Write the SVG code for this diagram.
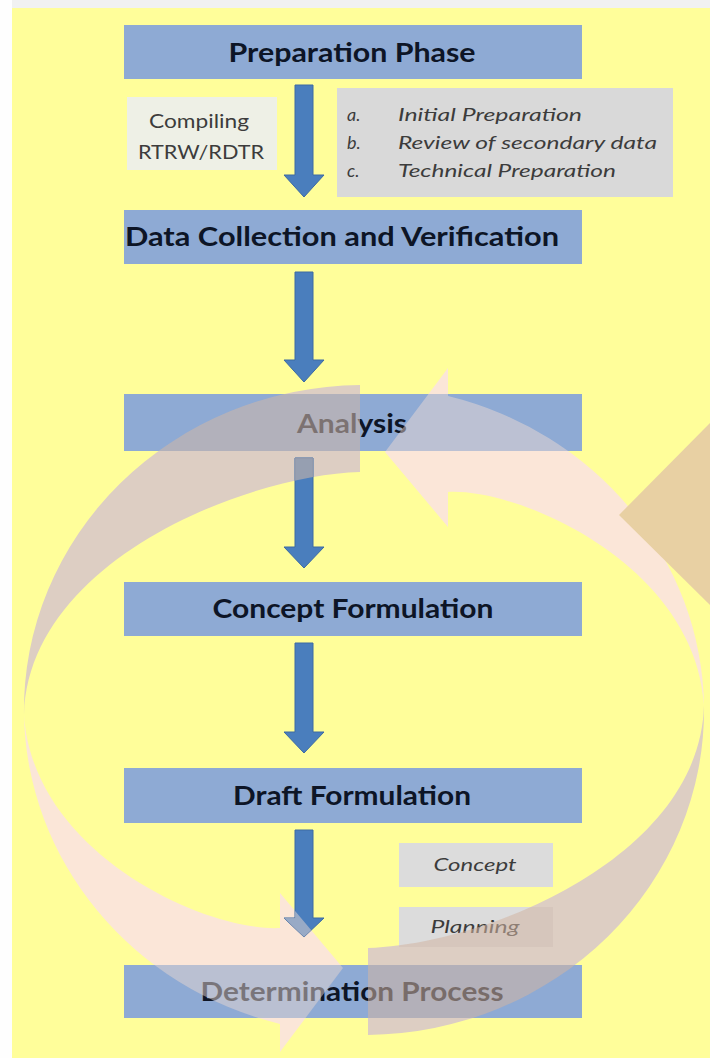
<svg xmlns="http://www.w3.org/2000/svg" xmlns:xlink="http://www.w3.org/1999/xlink" width="710" height="1058" viewBox="0 0 710 1058">
<style>
.box{fill:#8EAAD4}
.title{font-family:Lato,"Liberation Sans",sans-serif;font-weight:700;font-size:27px;fill:#0d1526;text-anchor:middle}
.small{font-family:Lato,"Liberation Sans",sans-serif;font-size:19px;fill:#3c3c3c;text-anchor:middle}
.ital{font-family:Lato,"Liberation Sans",sans-serif;font-style:italic;font-size:18px;fill:#3c3c3c}
.barrow{fill:#4A7EBD;stroke:#3C6AA3;stroke-width:1}
</style>
<defs>
<path id="rl" d="M448,396 A340,325 0 0 1 704,705 C695,565 520,488 448,492 L448,527 L385,452 L448,368 Z"/>
<path id="rd" d="M704,705 A340,325 0 0 1 368,1035 L368,948 C480,945 700,860 704,705 Z"/>
<clipPath id="boxclip">
<rect x="124" y="394" width="458" height="57"/>
<rect x="124" y="965" width="458" height="53"/>
<rect x="399" y="907" width="154" height="40"/>
<path d="M295,458 H313 V547 H324 L304,568 L284,547 H295 Z"/>
<path d="M295,830 H313 V918 H324 L304,937 L284,918 H295 Z"/>
</clipPath>
</defs>

<rect x="0" y="0" width="710" height="1058" fill="#FFFE9A"/>
<rect x="0" y="0" width="710" height="8" fill="#F1F1F1"/>
<rect x="0" y="0" width="12" height="1058" fill="#FEFEFE"/>

<g id="cycle">
<use xlink:href="#rl" fill="#FBE6D8"/>
<use xlink:href="#rd" fill="#DDCEC3"/>
<use xlink:href="#rl" fill="#FBE6D8" transform="rotate(180 364 710)"/>
<use xlink:href="#rd" fill="#DDCEC3" transform="rotate(180 364 710)"/>
</g>

<g id="preparation">
<rect class="box" x="124" y="25" width="458" height="54"/>
<text class="title" x="352" y="62" textLength="247" lengthAdjust="spacingAndGlyphs">Preparation Phase</text>
</g>
<g id="compiling">
<rect x="127" y="97" width="150" height="73" fill="#EEF0E6"/>
<text class="small" x="199" y="128" textLength="100" lengthAdjust="spacingAndGlyphs">Compiling</text>
<text class="small" x="201" y="159" textLength="126" lengthAdjust="spacingAndGlyphs">RTRW/RDTR</text>
</g>
<g id="prep-list">
<rect x="337" y="88" width="336" height="109" fill="#D9D9D9"/>
<text class="ital" x="347" y="121">a.</text>
<text class="ital" x="398" y="121" textLength="184" lengthAdjust="spacingAndGlyphs">Initial Preparation</text>
<text class="ital" x="347" y="149">b.</text>
<text class="ital" x="398" y="149" textLength="259" lengthAdjust="spacingAndGlyphs">Review of secondary data</text>
<text class="ital" x="347" y="177">c.</text>
<text class="ital" x="398" y="177" textLength="218" lengthAdjust="spacingAndGlyphs">Technical Preparation</text>
</g>
<g id="data-collection">
<rect class="box" x="124" y="210" width="458" height="54"/>
<text class="title" x="342" y="246" textLength="434" lengthAdjust="spacingAndGlyphs">Data Collection and Verification</text>
</g>
<g id="analysis">
<rect class="box" x="124" y="394" width="458" height="57"/>
<text class="title" x="352" y="433" textLength="110" lengthAdjust="spacingAndGlyphs">Analysis</text>
</g>
<g id="concept-formulation">
<rect class="box" x="124" y="582" width="458" height="54"/>
<text class="title" x="353" y="618" textLength="281" lengthAdjust="spacingAndGlyphs">Concept Formulation</text>
</g>
<g id="draft-formulation">
<rect class="box" x="124" y="768" width="458" height="55"/>
<text class="title" x="352" y="805" textLength="238" lengthAdjust="spacingAndGlyphs">Draft Formulation</text>
</g>
<g id="concept">
<rect x="399" y="843" width="154" height="44" fill="#DCDCDC"/>
<text class="ital" x="475" y="871" text-anchor="middle" textLength="83" lengthAdjust="spacingAndGlyphs">Concept</text>
</g>
<g id="planning">
<rect x="399" y="907" width="154" height="40" fill="#DCDCDC"/>
<text class="ital" x="475" y="933" text-anchor="middle" textLength="89" lengthAdjust="spacingAndGlyphs">Planning</text>
</g>
<g id="determination">
<rect class="box" x="124" y="965" width="458" height="53"/>
<text class="title" x="352" y="1001" textLength="303" lengthAdjust="spacingAndGlyphs">Determination Process</text>
</g>

<g id="connectors">
<path class="barrow" d="M295,85 H313 V175 H324 L304,197 L284,175 H295 Z"/>
<path class="barrow" d="M295,272 H313 V360 H324 L304,382 L284,360 H295 Z"/>
<path class="barrow" d="M295,458 H313 V547 H324 L304,568 L284,547 H295 Z"/>
<path class="barrow" d="M295,643 H313 V732 H324 L304,753 L284,732 H295 Z"/>
<path class="barrow" d="M295,830 H313 V918 H324 L304,937 L284,918 H295 Z"/>
</g>

<g id="cycle-overlay" clip-path="url(#boxclip)">
<use xlink:href="#rl" fill="#EFDCD3" opacity="0.48"/>
<use xlink:href="#rd" fill="#D2B5A2" opacity="0.55"/>
<use xlink:href="#rl" fill="#E6D6D0" opacity="0.5" transform="rotate(180 364 710)"/>
<use xlink:href="#rd" fill="#CDB6A8" opacity="0.58" transform="rotate(180 364 710)"/>
</g>

<polygon id="tan-triangle" points="619,515 710,423 710,605" fill="#E8D0A3"/>
</svg>
